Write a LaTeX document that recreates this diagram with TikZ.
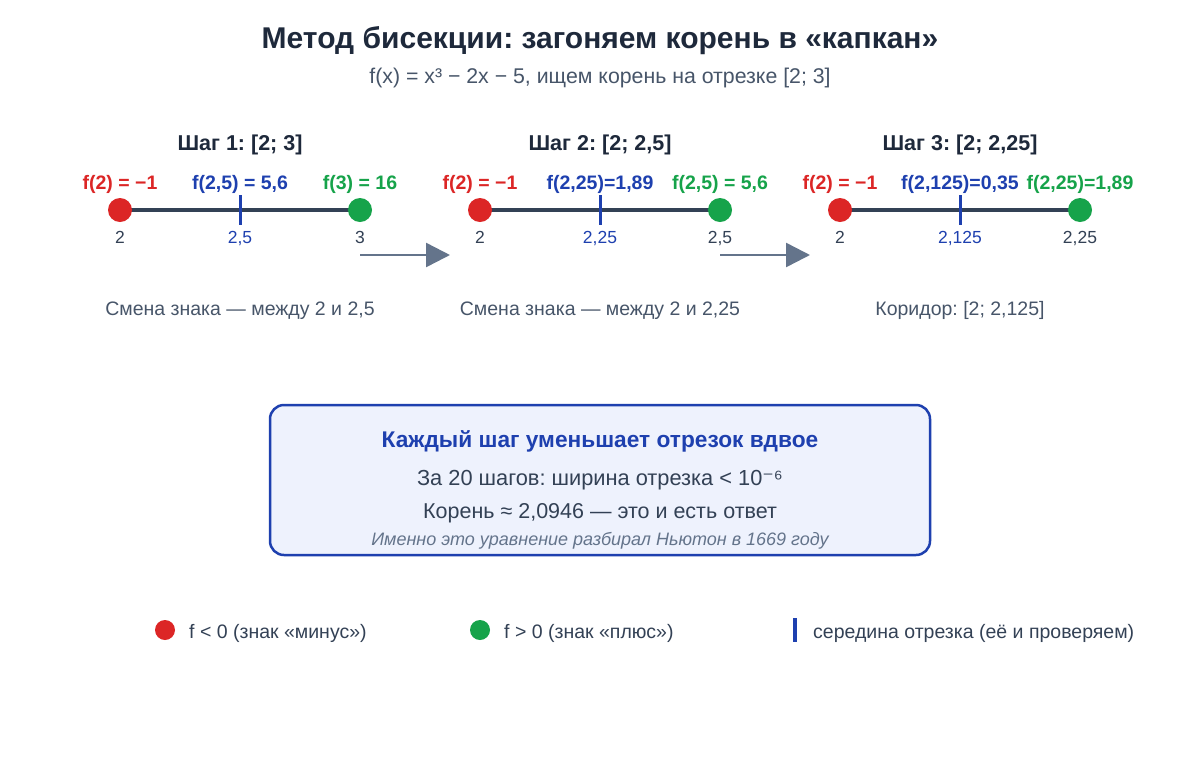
\documentclass[tikz,border=0pt]{standalone}
\usepackage{fontspec}
\setmainfont{Liberation Sans}
\newfontfamily\symfont{DejaVu Sans}
\usetikzlibrary{arrows.meta}
\frenchspacing
\definecolor{minus}{HTML}{DC2626}
\definecolor{plus}{HTML}{16A34A}
\definecolor{midc}{HTML}{1E40AF}
\definecolor{ink}{HTML}{1E293B}
\definecolor{segc}{HTML}{334155}
\definecolor{greyt}{HTML}{475569}
\definecolor{arrc}{HTML}{64748B}
\definecolor{boxf}{HTML}{EEF2FD}
\newcommand{\fs}[1]{\fontsize{#1}{#1}\selectfont}
\tikzset{
 dot/.style={circle, inner sep=0, minimum size=24pt},
 lbl/.style={font=\bfseries\fs{19.5}, anchor=base, inner sep=0},
 num/.style={font=\fs{17.5}, anchor=base, text=segc, inner sep=0},
 seg/.style={segc, line width=4pt},
 tick/.style={midc, line width=3pt},
 legtext/.style={text=segc, font=\fs{19.5}, anchor=base west, inner sep=0},
 stepto/.style={arrc, line width=2.5pt, -{Triangle[length=24pt,width=24pt]}}
}
\begin{document}
\begin{tikzpicture}[x=1pt, y=-1pt]
\useasboundingbox[fill=white] (0,0) rectangle (1200,780);
% title
\node[text=ink, font=\bfseries\fs{30}, anchor=base, inner sep=0] (title) at (600,48) {Метод бисекции: загоняем корень в «капкан»};
\node[text=greyt, font=\fs{21.3}, anchor=base, inner sep=0] (sub) at (600,83) {f(x) = x³ − 2x − 5, ищем корень на отрезке [2; 3]};
% three steps
\foreach \i/\c/\lo/\md/\hi/\fa/\fm/\fb/\st/\txt in {
 1/240/2/{2,5}/3/{f(2) = −1}/{f(2,5) = 5,6}/{f(3) = 16}/{[2; 3]}/{Смена знака — между 2 и 2,5},
 2/600/2/{2,25}/{2,5}/{f(2) = −1}/{f(2,25)=1,89}/{f(2,5) = 5,6}/{[2; 2,5]}/{Смена знака — между 2 и 2,25},
 3/960/2/{2,125}/{2,25}/{f(2) = −1}/{f(2,125)=0,35}/{f(2,25)=1,89}/{[2; 2,25]}/{Коридор: [2; 2,125]}}{
 \node[text=ink, font=\bfseries\fs{21.5}, anchor=base, inner sep=0] (s\i) at (\c,150) {Шаг \i: \st};
 \node[dot] (a\i) at (\c-120,210) {};
 \node[dot] (b\i) at (\c+120,210) {};
 \draw[seg] (a\i.center) -- (b\i.center);
 \fill[minus] (a\i) circle (12);
 \fill[plus] (b\i) circle (12);
 \coordinate (m\i) at (\c,210);
 \draw[tick] ([yshift=15pt]m\i) -- ([yshift=-15pt]m\i);
 \node[lbl, text=minus] (fa\i) at (\c-120,189) {\fa};
 \node[lbl, text=midc] (fm\i) at (\c,189) {\fm};
 \node[lbl, text=plus] (fb\i) at (\c+120,189) {\fb};
 \node[num] (na\i) at (\c-120,243) {\lo};
 \node[num, text=midc] (nm\i) at (\c,243) {\md};
 \node[num] (nb\i) at (\c+120,243) {\hi};
 \node[text=greyt, font=\fs{19.5}, anchor=base, inner sep=0] (d\i) at (\c,315) {\txt};
}
\coordinate (p1) at (360,255);
\coordinate (q1) at (450,255);
\coordinate (p2) at (720,255);
\coordinate (q2) at (810,255);
\draw[stepto] (p1) -- (q1);
\draw[stepto] (p2) -- (q2);
% summary box
\draw[midc, fill=boxf, line width=2.5pt, rounded corners=14pt] (270,405) rectangle (930,555);
\node[text=midc, font=\bfseries\fs{22.7}, anchor=base, inner sep=0] (h) at (600,447) {Каждый шаг уменьшает отрезок вдвое};
\node[text=segc, font=\fs{21.8}, anchor=base, inner sep=0] (l1) at (600,485) {За 20 шагов: ширина отрезка < 10{\symfont ⁻}⁶};
\node[text=segc, font=\fs{21.5}, anchor=base, inner sep=0] (l2) at (600,518) {Корень ≈ 2,0946 — это и есть ответ};
\node[text=arrc, font=\itshape\fs{18}, anchor=base, inner sep=0] (l3) at (600,545) {Именно это уравнение разбирал Ньютон в 1669 году};
% legend
\fill[minus] (165,630) circle (10);
\node[legtext] (k1) at (189,638) {f < 0 (знак «минус»)};
\fill[plus] (480,630) circle (10);
\node[legtext] (k2) at (504,638) {f > 0 (знак «плюс»)};
\draw[tick, line width=4pt] (795,618) -- (795,642);
\node[legtext] (k3) at (813,638) {середина отрезка (её и проверяем)};
\end{tikzpicture}
\end{document}
